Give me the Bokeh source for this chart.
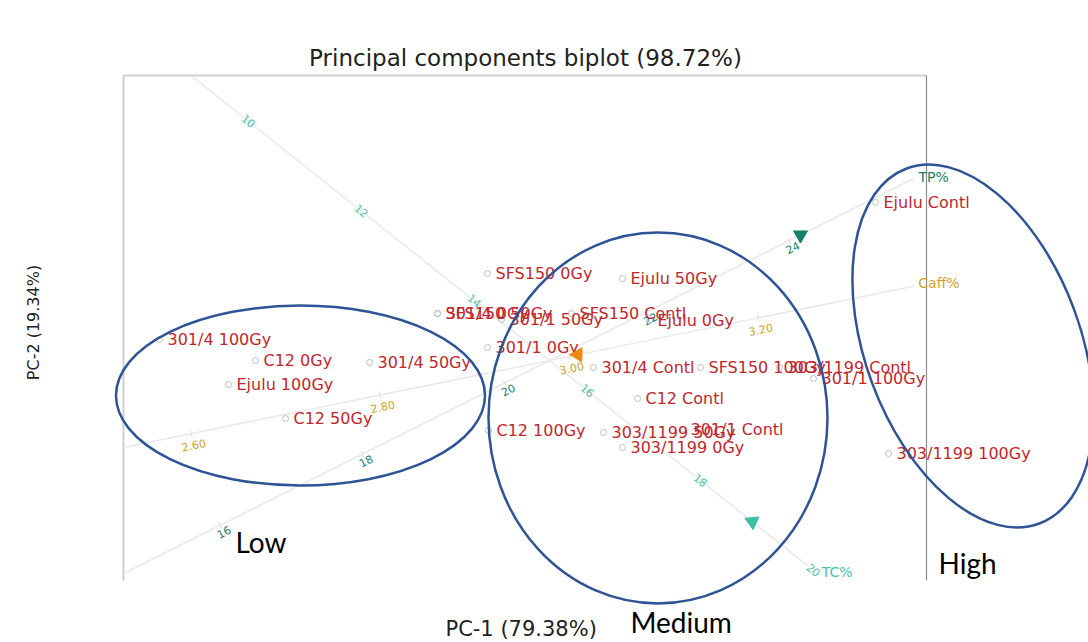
import math

from bokeh.core.properties import value
from bokeh.embed import file_html
from bokeh.models import ColumnDataSource, Range1d
from bokeh.plotting import figure
from bokeh.resources import INLINE

# ---------------------------------------------------------------------------
# Sample scores on the first two principal components
# ---------------------------------------------------------------------------
samples = [
    "301/4 100Gy", "C12 0Gy", "301/4 50Gy", "Ejulu 100Gy", "C12 50Gy",
    "SFS150 0Gy", "Ejulu 50Gy", "301/4 0Gy", "SFS150 50Gy", "301/1 50Gy",
    "SFS150 Contl", "Ejulu 0Gy", "301/1 0Gy", "301/4 Contl", "SFS150 100Gy",
    "303/1199 Contl", "301/1 100Gy", "C12 Contl", "C12 100Gy", "303/1199 50Gy",
    "301/1 Contl", "303/1199 0Gy", "Ejulu Contl", "303/1199 100Gy",
]
pc1 = [-3.90, -2.94, -1.80, -3.21, -2.64,
       -0.62, 0.73, -1.12, -1.12, -0.48,
       0.22, 1.00, -0.62, 0.44, 1.51,
       2.30, 2.64, 0.88, -0.61, 0.54,
       1.33, 0.73, 3.26, 3.39]
pc2 = [0.21, 0.00, -0.02, -0.24, -0.58,
       0.87, 0.82, 0.47, 0.47, 0.41,
       0.47, 0.40, 0.13, -0.07, -0.07,
       -0.07, -0.18, -0.38, -0.70, -0.72,
       -0.69, -0.87, 1.58, -0.93]

# ---------------------------------------------------------------------------
# Calibrated variable axes: value at the origin and PC shift per unit
# ---------------------------------------------------------------------------
variables = ["TP%", "TC%", "Caff%"]
var_centre = [20.63, 15.33, 2.979]
var_step_pc1 = [0.711, 0.565, 9.45]
var_step_pc2 = [0.3555, -0.449, 1.928]
var_span_lo = [14.64, 8.99, 2.528]
var_span_hi = [25.75, 19.9, 3.364]
var_arrow_at = [24.16, 18.92, 3.009]
tp_ticks = [16, 18, 20, 22, 24]
tc_ticks = [10, 12, 14, 16, 18, 20]
caff_ticks = [2.60, 2.80, 3.00, 3.20]
var_ticks = [tp_ticks, tc_ticks, caff_ticks]
var_fmt = ["{:.0f}", "{:.0f}", "{:.2f}"]

# Grouping of the samples
groups = ["Low", "Medium", "High"]

# ---------------------------------------------------------------------------
# Styling
# ---------------------------------------------------------------------------
FONT = "DejaVu Sans"
LABEL_RED = "#c0272d"
AXIS_GREY = "#eaeaea"
VAR_LINE_COLOR = ["#17806d", "#4cc2a9", "#d1a128"]   # tick labels / names
ARROW_COLOR = ["#17806d", "#3dbfa3", "#ee8a12"]
ARROW_MARKER = ["inverted_triangle", "triangle", "inverted_triangle"]
ARROW_ANGLE = [0.0, 1.15, 0.5]
LABEL_SHIFT = [0.08, 0.0, 0.12]         # perpendicular offset of tick labels
NAME_OFFSET = [(5, -1), (14, 6), (5, -3)]  # screen offsets of variable names
ELLIPSE_BLUE = "#2f5496"

p = figure(
    width=1088, height=642,
    x_range=Range1d(-5.49, 5.39), y_range=Range1d(-2.82, 3.60),
    output_backend="svg", toolbar_location=None,
    x_axis_location=None, y_axis_location=None,
    min_border=0, outline_line_color=None,
    background_fill_color="white", border_fill_color="white",
)
p.grid.visible = False

# Plot box: top, left and right edges
box_l, box_r, box_t, box_b = -4.26, 3.77, 2.85, -2.20
p.line([box_l, box_l, box_r], [box_b, box_t, box_t], line_color="#cfcfcf", line_width=2)
p.line([box_r, box_r], [box_t, box_b], line_color="#8c8c8c", line_width=1.2)

# Title and axis titles
p.text(x=[-0.24], y=[3.03], text=["Principal components biplot (98.72%)"],
       text_font=value(FONT), text_font_size="23px", text_color="#222222",
       text_align="center", text_baseline="middle")
p.text(x=[-0.25], y=[-2.685], text=["PC-1  (79.38%)"],
       text_font=value(FONT), text_font_size="21px", text_color="#222222",
       text_align="center", text_baseline="middle")
p.text(x=[-5.16], y=[0.38], text=["PC-2 (19.34%)"], angle=[math.pi / 2],
       text_font=value(FONT), text_font_size="16px", text_color="#222222",
       text_align="center", text_baseline="middle")

# Variable axes, their tick marks and tick labels
for i, name in enumerate(variables):
    c0, sx, sy = var_centre[i], var_step_pc1[i], var_step_pc2[i]
    norm = math.hypot(sx, sy)
    ux, uy = sx / norm, sy / norm
    nx, ny = uy, -ux                      # perpendicular, pointing below the axis
    if nx < 0:
        nx, ny = -nx, -ny
    ang = math.atan2(sy, sx)

    lo, hi = var_span_lo[i], var_span_hi[i]
    p.line([(lo - c0) * sx, (hi - c0) * sx], [(lo - c0) * sy, (hi - c0) * sy],
           line_color=AXIS_GREY, line_width=1.6)

    tx = [(t - c0) * sx for t in var_ticks[i]]
    ty = [(t - c0) * sy for t in var_ticks[i]]
    p.segment(x0=[x - 0.035 * nx for x in tx], y0=[y - 0.035 * ny for y in ty],
              x1=[x + 0.035 * nx for x in tx], y1=[y + 0.035 * ny for y in ty],
              line_color="#dcdcdc", line_width=1)
    sh = LABEL_SHIFT[i]
    p.text(x=[x + sh * nx for x in tx], y=[y + sh * ny for y in ty],
           text=[var_fmt[i].format(t) for t in var_ticks[i]],
           angle=[ang] * len(tx),
           text_font=value(FONT), text_font_size="11px",
           text_color=VAR_LINE_COLOR[i], text_align="center", text_baseline="middle")

    ox, oy = NAME_OFFSET[i]
    p.text(x=[(hi - c0) * sx], y=[(hi - c0) * sy], text=[name],
           x_offset=ox, y_offset=oy,
           text_font=value(FONT), text_font_size="14px",
           text_color=VAR_LINE_COLOR[i], text_align="left", text_baseline="middle")

# Sample points and names
src = ColumnDataSource(dict(x=pc1, y=pc2, name=samples))
p.scatter("x", "y", source=src, marker="circle", size=6,
          fill_color=None, line_color="#bdbdbd", line_width=1)
p.text("x", "y", text="name", source=src, x_offset=8,
       text_font=value(FONT), text_font_size="16px", text_color=LABEL_RED,
       text_align="left", text_baseline="middle")

# Arrow heads of the variable axes
for i in range(len(variables)):
    v = var_arrow_at[i]
    p.scatter([(v - var_centre[i]) * var_step_pc1[i]], [(v - var_centre[i]) * var_step_pc2[i]],
              marker=ARROW_MARKER[i], size=14, angle=ARROW_ANGLE[i],
              fill_color=ARROW_COLOR[i], line_color=ARROW_COLOR[i])

# Group outlines
ell = ColumnDataSource(dict(
    x=[-2.49, 1.085, 4.235], y=[-0.35, -0.575, 0.145],
    w=[3.69, 3.39, 3.79], h=[1.80, 3.71, 2.15], a=[0.0, 0.0, -1.213],
))
p.ellipse("x", "y", width="w", height="h", angle="a", source=ell,
          fill_color=None, line_color=ELLIPSE_BLUE, line_width=2.5)

# Group names
p.text(x=[-3.14, 0.81, 3.89], y=[-1.81, -2.61, -2.02], text=groups,
       text_font=value("Lato"), text_font_size="28px", text_color="#000000",
       text_align="left", text_baseline="alphabetic")

open("out.html", "w").write(file_html(p, INLINE))
